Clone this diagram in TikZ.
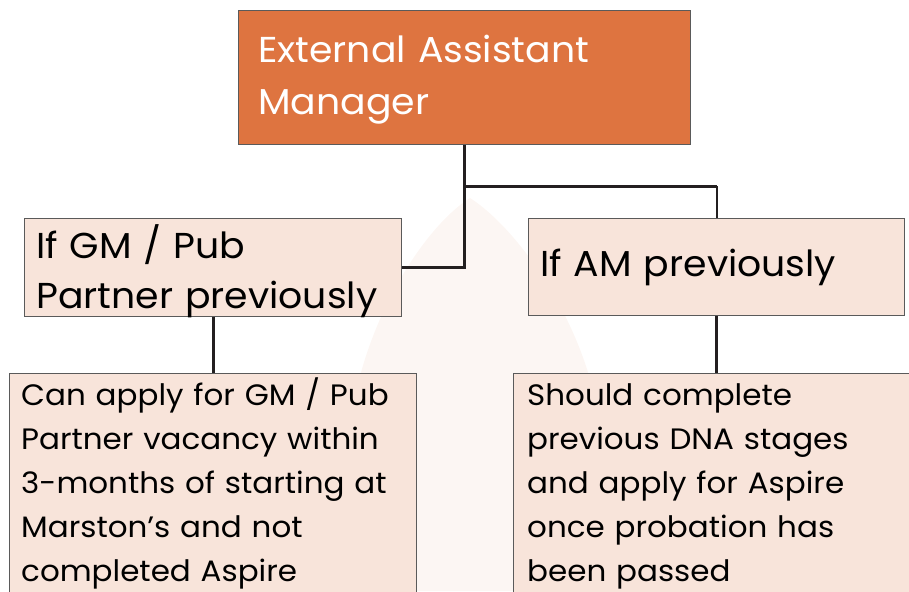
\documentclass[tikz,border=0pt]{standalone}
\usepackage{fontspec}
\setmainfont{Poppins}[FakeStretch=1.05]
\definecolor{extorange}{HTML}{DE7440}
\definecolor{peach}{HTML}{F8E4DA}
\definecolor{edgegray}{HTML}{5A5A5A}
\definecolor{linkdark}{HTML}{231F20}
\definecolor{ghost}{HTML}{FCF6F3}
\tikzset{
  box/.style={draw=edgegray, line width=1pt, rectangle, anchor=north west, inner sep=0pt},
  txt/.style={anchor=base west, inner sep=0pt, text width=#1, align=left},
  link/.style={draw=linkdark, line width=3pt}
}
\begin{document}
\begin{tikzpicture}[x=1pt, y=-1pt]
\useasboundingbox (0,0) rectangle (909,591);
\clip (0,0) rectangle (909,591);
% faint background shape
\fill[ghost] (470,198) .. controls (420,230) and (360,330) .. (350,430) -- (345,591) -- (610,591) -- (600,430) .. controls (590,330) and (520,230) .. (470,198) -- cycle;
% boxes
\node[box, fill=extorange, minimum width=452pt, minimum height=134pt] (ext) at (238,10) {};
\node[box, fill=peach, minimum width=377pt, minimum height=98pt] (gm) at (24,218) {};
\node[box, fill=peach, minimum width=376pt, minimum height=97pt] (am) at (528,218) {};
\node[box, fill=peach, minimum width=407pt, minimum height=260pt] (gmres) at (9,373) {};
\node[box, fill=peach, minimum width=406pt, minimum height=260pt] (amres) at (513,373) {};
% texts
\node[txt=440pt, text=white, font=\fontsize{36}{52}\selectfont] (exttext) at (258,63) {External Assistant\\Manager};
\node[txt=380pt, font=\fontsize{36}{50}\selectfont] (gmtext) at (36,258) {If GM / Pub\\Partner previously};
\node[txt=380pt, font=\fontsize{36}{50}\selectfont] (amtext) at (540,276) {If AM previously};
\node[txt=400pt, font=\fontsize{29.5}{44.2}\selectfont] (gmrestext) at (21,405) {Can apply for GM / Pub\\Partner vacancy within\\3-months of starting at\\Marston’s and not\\completed Aspire};
\node[txt=400pt, font=\fontsize{29.5}{44.2}\selectfont] (amrestext) at (527,405) {Should complete\\previous DNA stages\\and apply for Aspire\\once probation has\\been passed};
% connectors
\coordinate (split) at (ext.south |- 0,186);
\draw[link] (ext.south) |- (gm.east);
\draw[link] (split) -- (split -| am.north);
\draw[link, line width=2pt] (split -| am.north) -- (am.north);
\draw[link] (gm.south) -- (gmres.north);
\draw[link] (am.south) -- (amres.north);
\end{tikzpicture}
\end{document}
